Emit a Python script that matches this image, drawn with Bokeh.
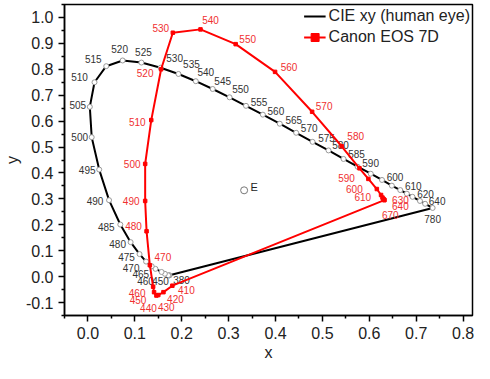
from bokeh.plotting import figure
from bokeh.models import Range1d, FixedTicker, PrintfTickFormatter, ColumnDataSource, Legend, LegendItem
from bokeh.core.properties import value
from bokeh.embed import file_html
from bokeh.resources import INLINE

# ---- data: CIE 1931 spectral locus (human eye) ----
cie_wl = [380, 400, 420, 440, 450, 460, 465, 470, 475, 480, 485, 490, 495, 500, 505, 510,
          515, 520, 525, 530, 535, 540, 545, 550, 555, 560, 565, 570, 575, 580, 585, 590,
          595, 600, 605, 610, 615, 620, 630, 640, 780]
cie_x = [0.174, 0.173, 0.171, 0.164, 0.157, 0.144, 0.136, 0.124, 0.110, 0.091, 0.069, 0.045,
         0.024, 0.008, 0.004, 0.014, 0.039, 0.074, 0.114, 0.155, 0.193, 0.230, 0.266, 0.302,
         0.337, 0.373, 0.409, 0.444, 0.479, 0.513, 0.545, 0.575, 0.603, 0.627, 0.648, 0.666,
         0.680, 0.692, 0.708, 0.719, 0.735]
cie_y = [0.005, 0.005, 0.005, 0.011, 0.018, 0.030, 0.040, 0.058, 0.087, 0.133, 0.201, 0.295,
         0.413, 0.538, 0.655, 0.750, 0.812, 0.834, 0.826, 0.806, 0.782, 0.754, 0.724, 0.692,
         0.659, 0.625, 0.590, 0.555, 0.520, 0.487, 0.454, 0.424, 0.397, 0.373, 0.351, 0.334,
         0.320, 0.308, 0.292, 0.281, 0.265]
cie_labels = ["380", "", "", "", "450", "460", "465", "470", "475", "480", "485", "490", "495",
              "500", "505", "510", "515", "520", "525", "530", "535", "540", "545", "550", "555",
              "560", "565", "570", "575", "580", "585", "590", "", "600", "", "610", "", "620",
              "", "640", "780"]

# ---- data: Canon EOS 7D ----
canon_wl = [410, 420, 430, 440, 450, 460, 470, 480, 490, 500, 510, 520, 530, 540, 550, 560,
            570, 580, 590, 600, 610, 620, 630, 640, 650, 660, 670]
canon_x = [0.180, 0.161, 0.150, 0.146, 0.141, 0.139, 0.132, 0.125, 0.122, 0.122, 0.135, 0.156,
           0.181, 0.240, 0.315, 0.399, 0.478, 0.541, 0.579, 0.598, 0.616, 0.625, 0.628, 0.630,
           0.631, 0.632, 0.632]
canon_y = [-0.035, -0.060, -0.071, -0.073, -0.060, -0.039, 0.044, 0.175, 0.292, 0.435, 0.604,
           0.800, 0.941, 0.954, 0.897, 0.790, 0.636, 0.503, 0.418, 0.377, 0.338, 0.315, 0.305,
           0.300, 0.297, 0.296, 0.295]
canon_labels = ["410", "420", "430", "440", "450", "460", "470", "480", "490", "500", "510",
                "520", "530", "540", "550", "560", "570", "580", "590", "600", "610", "", "630",
                "640", "", "", "670"]

white_point_x = [0.333]
white_point_y = [0.333]
white_point_label = ["E"]

x_ticks = [0.0, 0.1, 0.2, 0.3, 0.4, 0.5, 0.6, 0.7, 0.8]
y_ticks = [-0.1, 0.0, 0.1, 0.2, 0.3, 0.4, 0.5, 0.6, 0.7, 0.8, 0.9, 1.0]

# ---- label placement (screen px offsets, layout only) ----
cie_dx = [12, 0, 0, 0, -1, -10, -11, -15, -13, -13, -14, -14, -12, -12, -12, -15, -13, -3, 2,
          14, 13, 10, 10, 11, 13, 13, 14, 13, 14, 12, 13, 13, 0, 13, 0, 13, 0, 13, 0, 12, 0]
cie_dy = [5, 0, 0, 0, 9, 12, 8, 6, 3, 2, 2, 1, 0, 0, -2, -5, -7, -11, -11, -10, -10, -9, -8,
          -8, -4, -4, -4, -5, -4, -5, -5, -4, 0, -3, 0, -4, 0, -3, 0, -3, 11]
canon_dx = [14, 12, 8, -8, -16, -16, 13, -13, -14, -13, -14, -16, -12, 10, 12, 14, 12, 14, -13,
            -14, -14, 0, 18, 17, 0, 0, 6]
canon_dy = [4, 7, 12, 12, 8, 6, -8, -5, 0, 0, 2, 4, -5, -9, -5, -5, -6, -10, 10, 10, 8, 0, 2,
            7, 0, 0, 15]

FONT = "Liberation Sans"
RED = "#ff0000"

p = figure(width=474, height=363, output_backend="svg", toolbar_location=None,
           x_range=Range1d(-0.05, 0.82), y_range=Range1d(-0.15, 1.05),
           min_border_left=59, min_border_right=2, min_border_top=4, min_border_bottom=0)
p.background_fill_color = "white"
p.border_fill_color = "white"
p.grid.visible = False
p.outline_line_color = "black"
p.outline_line_width = 1.5

cie_src = ColumnDataSource(dict(x=cie_x, y=cie_y, lab=cie_labels, dx=cie_dx, dy=cie_dy))
canon_src = ColumnDataSource(dict(x=canon_x, y=canon_y, lab=canon_labels, dx=canon_dx, dy=canon_dy))

# CIE locus, closed with the purple line 780 -> 380
r_cie = p.line(cie_x + [cie_x[0]], cie_y + [cie_y[0]], line_color="black", line_width=2)
p.scatter("x", "y", source=cie_src, marker="circle", size=5, fill_color="white",
          line_color="#999999", line_width=1)
p.text("x", "y", text="lab", source=cie_src, x_offset="dx", y_offset="dy",
       text_font=value(FONT), text_font_size="10px", text_color="#333333",
       text_align="center", text_baseline="middle")

# Canon EOS 7D, closed
r_can = p.line(canon_x + [canon_x[0]], canon_y + [canon_y[0]], line_color=RED, line_width=2)
r_can_pts = p.scatter("x", "y", source=canon_src, marker="square", size=3.5, fill_color=RED,
                      line_color=RED)
p.text("x", "y", text="lab", source=canon_src, x_offset="dx", y_offset="dy",
       text_font=value(FONT), text_font_size="10px", text_color="#f03030",
       text_align="center", text_baseline="middle")

# white point E
p.scatter(white_point_x, white_point_y, marker="circle", size=7, fill_color="white",
          line_color="#777777", line_width=1)
p.text(white_point_x, white_point_y, text=white_point_label, x_offset=10, y_offset=-3,
       text_font=value(FONT), text_font_size="11px", text_color="#222222",
       text_align="center", text_baseline="middle")

# axes
for ax, ticks in ((p.xaxis[0], x_ticks), (p.yaxis[0], y_ticks)):
    minors = [round(t + 0.05, 2) for t in ticks] + [round(ticks[0] - 0.05, 2)]
    ax.ticker = FixedTicker(ticks=ticks, minor_ticks=minors)
    ax.formatter = PrintfTickFormatter(format="%.1f")
    ax.major_label_text_font = FONT
    ax.major_label_text_font_size = "16px"
    ax.major_label_text_color = "#222222"
    ax.axis_label_text_font = FONT
    ax.axis_label_text_font_size = "16px"
    ax.axis_label_text_font_style = "normal"
    ax.axis_label_text_color = "#222222"
    ax.axis_line_width = 1.5
    ax.major_tick_line_width = 1.5
    ax.minor_tick_line_width = 1.5
    ax.major_tick_out = 6
    ax.major_tick_in = 0
    ax.minor_tick_out = 3
    ax.minor_tick_in = 0
    ax.major_label_standoff = 5
p.xaxis.axis_label = "x"
p.yaxis.axis_label = "y"
p.xaxis.axis_label_standoff = 2
p.yaxis.axis_label_standoff = 2

legend = Legend(items=[LegendItem(label="CIE xy (human eye)", renderers=[r_cie]),
                       LegendItem(label="Canon EOS 7D", renderers=[r_can, r_can_pts])],
                location="top_right")
legend.background_fill_alpha = 0
legend.border_line_alpha = 0
legend.label_text_font = FONT
legend.label_text_font_size = "16px"
legend.label_text_color = "#222222"
legend.glyph_width = 22
legend.glyph_height = 20
legend.label_height = 20
legend.label_standoff = 3
legend.spacing = 1
legend.padding = 2
legend.margin = 0
p.add_layout(legend)

open("out.html", "w").write(file_html(p, INLINE))
